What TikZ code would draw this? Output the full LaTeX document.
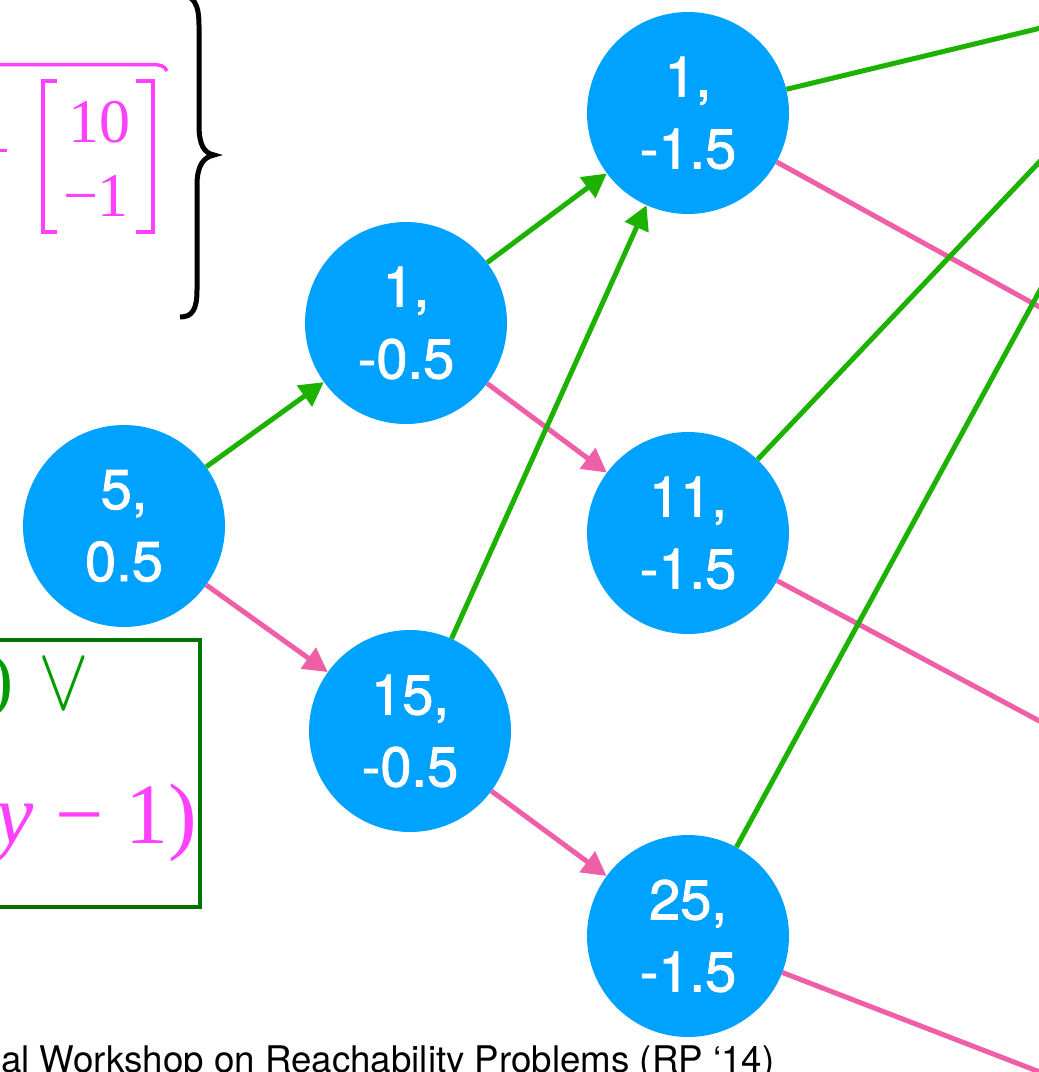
\documentclass[tikz,border=0pt]{standalone}
\usepackage{fontspec}
\setmainfont{TeX Gyre Heros}
\newfontfamily\nodefont[FakeBold=1.5]{TeX Gyre Heros}
\newfontfamily\tnr{Liberation Serif}
\usetikzlibrary{arrows.meta}
\definecolor{nodeblue}{RGB}{0,162,255}
\definecolor{arrgreen}{RGB}{29,177,0}
\definecolor{arrpink}{RGB}{239,95,167}
\definecolor{fpink}{RGB}{255,64,255}
\definecolor{fgreen}{RGB}{0,155,0}
\definecolor{boxgreen}{RGB}{0,115,0}
\begin{document}
\begin{tikzpicture}[x=1pt,y=-1pt,
  state/.style={circle,fill=nodeblue,minimum size=202pt,inner sep=0pt,text=white,align=center,font=\nodefont\fontsize{56}{72}\selectfont},
  gedge/.style={draw=arrgreen,line width=5pt,-{Triangle[length=24pt,width=25pt]}},
  pedge/.style={draw=arrpink,line width=5pt,-{Triangle[length=24pt,width=25pt]}},
  gline/.style={draw=arrgreen,line width=5pt},
  pline/.style={draw=arrpink,line width=5pt},
  ftext/.style={inner sep=0pt,font=\tnr\fontsize{#1}{#1}\selectfont}]
\useasboundingbox (0,0) rectangle (1039,1072);
\clip (0,0) rectangle (1039,1072);

% nodes
\node[state] (a) at (124,526) {5,\\0.5};
\node[state] (b) at (406,323) {1,\\-0.5};
\node[state] (c) at (410,731) {15,\\-0.5};
\node[state] (d) at (688,113) {1,\\-1.5};
\node[state] (e) at (688,533) {11,\\-1.5};
\node[state] (f) at (688,936) {25,\\-1.5};

% off-page ends
\coordinate (d1) at (1045,27);
\coordinate (d2) at (1045,310);
\coordinate (e1) at (1045,156);
\coordinate (e2) at (1045,724);
\coordinate (f1) at (1045,281);
\coordinate (f2) at (1045,1074);

% connectors
\draw[gedge] (a) -- (b);
\draw[pedge] (a) -- (c);
\draw[gedge] (b) -- (d);
\draw[pedge] (b) -- (e);
\draw[gedge] (c) -- (d);
\draw[pedge] (c) -- (f);
\draw[gline] (d) -- (d1);
\draw[pline] (d) -- (d2);
\draw[gline] (e) -- (e1);
\draw[pline] (e) -- (e2);
\draw[gline] (f) -- (f1);
\draw[pline] (f) -- (f2);

% top-left formula fragment
\draw[fpink,line width=3.5pt] (-10,64.5) -- (152,64.5) .. controls (160,64.5) and (165,66) .. (167,71);
\node[ftext=62,text=fpink,anchor=base] (plus) at (-7,171) {+};
\draw[fpink,line width=4pt] (57,81) -- (42.5,81) -- (42.5,232) -- (57,232);
\draw[fpink,line width=4pt] (136,81) -- (152.5,81) -- (152.5,232) -- (136,232);
\node[ftext=62,text=fpink,anchor=base] (m1) at (99,142) {10};
\node[ftext=62,text=fpink,anchor=base] (m2) at (96,216) {−1};
\draw[black,line width=5pt] (180,-5) .. controls (194,-5) and (199,5) .. (199,25) -- (199,125)
  .. controls (199,145) and (204,153) .. (214,155) .. controls (204,157) and (197,165) .. (197,185)
  -- (197,290) .. controls (197,310) and (192,317) .. (180,317);

% boxed formula fragment
\draw[boxgreen,line width=4.5pt] (-10,640) rectangle (200,907);
\node[ftext=72,text=fgreen,anchor=base east] (g1) at (14,703) {)};
\node[inner sep=0pt,text=fgreen,anchor=base] (g2) at (64,709) {\scalebox{7.6}[9]{$\vee$}};
\node[ftext=86,text=fpink,anchor=base east] (p1) at (197,843) {\textit{y} − 1)};

% footer
\node[inner sep=0pt,anchor=base west,font=\fontsize{36.7}{40}\selectfont] (foot) at (1,1072) {al Workshop on Reachability Problems (RP ‘14)};
\end{tikzpicture}
\end{document}
